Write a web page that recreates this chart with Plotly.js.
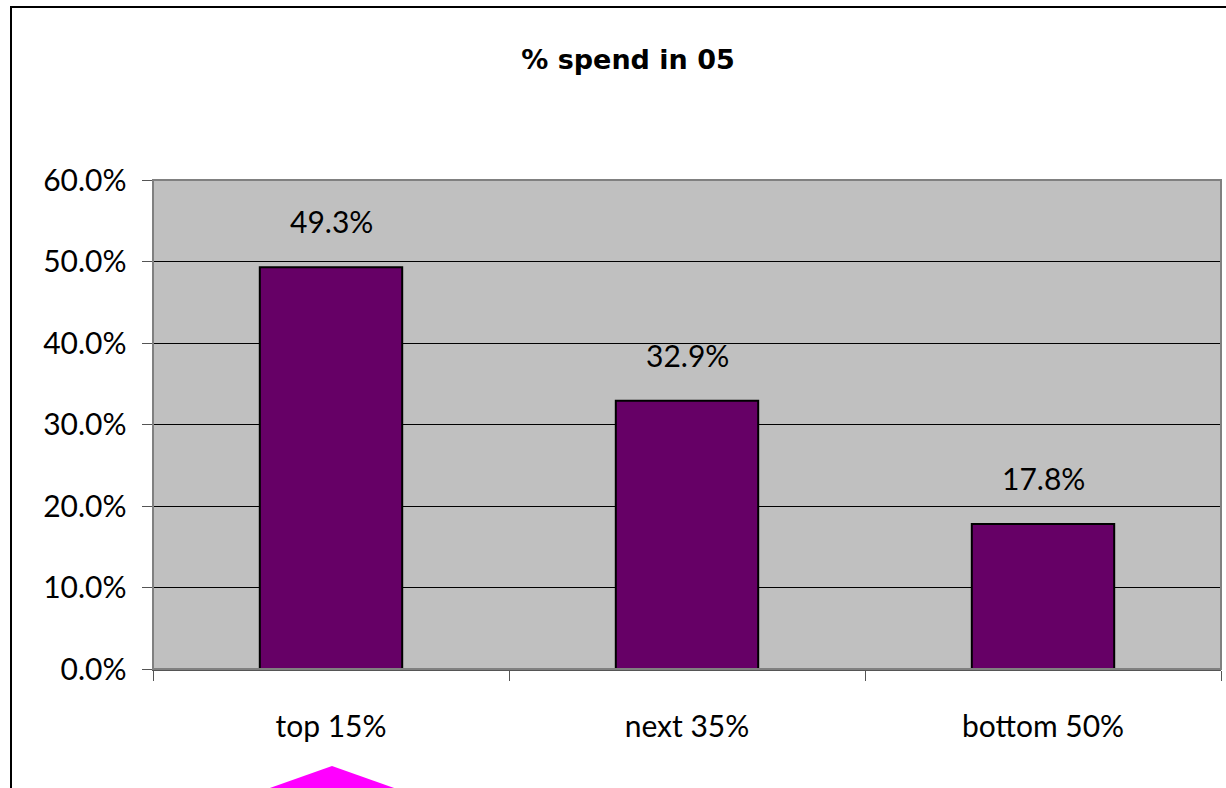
<!DOCTYPE html>
<html><head><meta charset="utf-8">
<script src="https://cdn.plot.ly/plotly-3.0.1.min.js"></script>
<style>html,body{margin:0;padding:0;background:#fff}#c{width:1226px;height:788px}</style>
</head><body><div id="c"></div>
<script>
const categories = ["top 15%", "next 35%", "bottom 50%"];
const spendShare = [0.493, 0.329, 0.178];
const labels = ["49.3%", "32.9%", "17.8%"];
const yTicks = [0, 0.1, 0.2, 0.3, 0.4, 0.5, 0.6];
const yTickText = ["0.0%", "10.0%", "20.0%", "30.0%", "40.0%", "50.0%", "60.0%"];

const W = 1226, H = 788, L = 153, R = 5, T = 180, B = 119;
const pw = W - L - R, ph = H - T - B;
const px = x => (x - L) / pw;
const py = y => (H - B - y) / ph;
const font = "Lato, 'Open Sans', sans-serif";

const trace = {
  type: "bar", x: categories, y: spendShare,
  marker: {color: "#660066", line: {color: "#000000", width: 2}},
  width: 0.4, hoverinfo: "none"
};

const annotations = categories.map((c, i) => ({
  x: c, y: spendShare[i], xref: "x", yref: "y", text: labels[i],
  showarrow: false, yanchor: "middle", yshift: 46,
  font: {family: font, size: 30, color: "#000"}
}));

const layout = {
  width: W, height: H,
  margin: {l: L, r: R, t: T, b: B, pad: 0},
  paper_bgcolor: "#ffffff", plot_bgcolor: "#C0C0C0",
  showlegend: false,
  title: {text: "<b>% spend in 05</b>", x: 628 / W, xref: "container", xanchor: "center",
          y: 1 - 60 / H, yref: "container", yanchor: "middle",
          font: {family: "'DejaVu Sans', sans-serif", size: 27, color: "#000"}},
  xaxis: {type: "category", tickson: "boundaries", ticks: "outside", ticklen: 10,
          tickcolor: "#555", showline: true, linecolor: "#555", linewidth: 1.5,
          showgrid: false, tickfont: {family: font, size: 30, color: "#000"},
          ticklabelstandoff: 30, range: [-0.5, 2.5], fixedrange: true},
  yaxis: {range: [0, 0.6], tickvals: yTicks, ticktext: yTickText, ticks: "outside",
          ticklen: 10, tickcolor: "#555", showline: true, linecolor: "#555", linewidth: 1.5,
          showgrid: true, gridcolor: "#000", gridwidth: 1, zeroline: false,
          tickfont: {family: font, size: 30, color: "#000"}, ticklabelstandoff: 9,
          fixedrange: true},
  annotations: annotations,
  shapes: [
    {type: "rect", xref: "paper", yref: "paper", x0: 0, x1: 1, y0: 0, y1: 1,
     line: {color: "#808080", width: 2}, layer: "above"},
    {type: "rect", xref: "paper", yref: "paper", x0: px(11), x1: px(1240), y0: py(800), y1: py(7),
     line: {color: "#000", width: 2}, layer: "above"},
    {type: "path", xref: "paper", yref: "paper",
     path: `M ${px(236)} ${py(800)} L ${px(332)} ${py(766)} L ${px(428)} ${py(800)} Z`,
     fillcolor: "#FF00FF", line: {width: 0}}
  ]
};

Plotly.newPlot("c", [trace], layout, {staticPlot: true, displayModeBar: false});
</script></body></html>
